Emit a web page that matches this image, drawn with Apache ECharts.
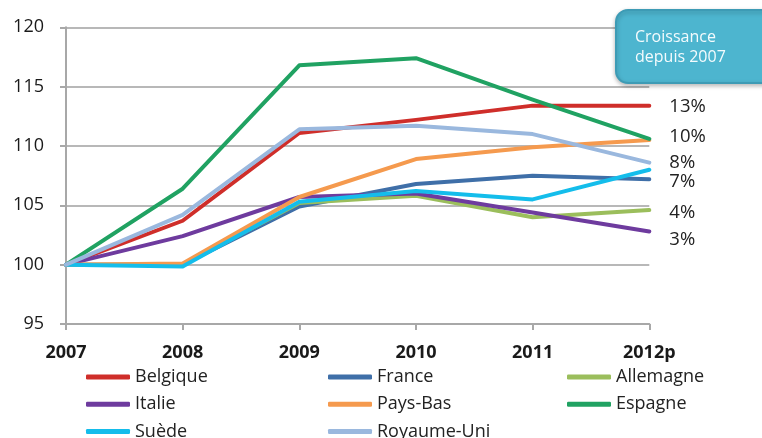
<!DOCTYPE html>
<html>
<head>
<meta charset="utf-8">
<style>
  html, body { margin: 0; padding: 0; background: #ffffff; }
  #chart { width: 762px; height: 438px; }
</style>
<script src="https://cdn.jsdelivr.net/npm/echarts@6/dist/echarts.min.js"></script>
</head>
<body>
<div id="chart"></div>
<script>
// Index 2007 = 100
const years = ['2007', '2008', '2009', '2010', '2011', '2012p'];

const belgique   = [100, 103.7, 111.1, 112.2, 113.4, 113.4];
const france     = [100, 100.0, 104.9, 106.8, 107.5, 107.2];
const allemagne  = [100, 100.0, 105.2, 105.8, 104.0, 104.6];
const italie     = [100, 102.4, 105.7, 106.0, 104.4, 102.8];
const paysBas    = [100, 100.1, 105.7, 108.9, 109.9, 110.5];
const espagne    = [100, 106.4, 116.8, 117.4, 113.9, 110.6];
const suede      = [100, 99.85, 105.3, 106.2, 105.5, 108.0];
const royaumeUni = [100, 104.2, 111.4, 111.7, 111.0, 108.6];

const yTicks = [95, 100, 105, 110, 115, 120];

// Growth since 2007, written at the end of some lines
const growthText = {
  'Belgique': '13%',
  'Espagne': '10%',
  'Royaume-Uni': '8%',
  'France': '7%',
  'Allemagne': '4%',
  'Italie': '3%'
};

const calloutLines = ['Croissance', 'depuis 2007'];

const FONT = '"Open Sans", "DejaVu Sans", sans-serif';

const seriesDefs = [
  { name: 'Belgique',    data: belgique,   color: '#CF2E2A', dy: 1 },
  { name: 'France',      data: france,     color: '#3F6FA8', dy: 3 },
  { name: 'Allemagne',   data: allemagne,  color: '#9BBE5C', dy: 3 },
  { name: 'Italie',      data: italie,     color: '#6E3B9E', dy: 8 },
  { name: 'Pays-Bas',    data: paysBas,    color: '#F59A4E', dy: 0 },
  { name: 'Espagne',     data: espagne,    color: '#20A262', dy: -2 },
  { name: 'Suède',       data: suede,      color: '#14BDEB', dy: 0 },
  { name: 'Royaume-Uni', data: royaumeUni, color: '#9AB8DE', dy: 0 }
];

const series = seriesDefs.map(function (s) {
  const txt = growthText[s.name];
  return {
    name: s.name,
    type: 'line',
    data: s.data,
    symbol: 'none',
    showSymbol: false,
    color: s.color,
    lineStyle: { width: 4, color: s.color, cap: 'round', join: 'round' },
    emphasis: { disabled: true },
    animation: false,
    endLabel: txt ? {
      show: true,
      formatter: txt,
      distance: 20,
      offset: [0, s.dy],
      color: '#222222',
      fontFamily: FONT,
      fontSize: 18.5
    } : { show: false }
  };
});

// One vertical legend per column, so the three columns line up
const legendCommon = {
  orient: 'vertical',
  padding: 0,
  height: 100,
  itemWidth: 44,
  itemHeight: 5,
  itemGap: 9.2,
  icon: 'roundRect',
  selectedMode: false,
  textStyle: { fontFamily: FONT, fontSize: 18, color: '#222222', lineHeight: 18 }
};

const chart = echarts.init(document.getElementById('chart'), null, { renderer: 'canvas' });

chart.setOption({
  backgroundColor: '#ffffff',
  animation: false,
  grid: { left: 66, right: 112.7, top: 27.3, bottom: 114 },
  xAxis: {
    type: 'category',
    data: years,
    boundaryGap: false,
    axisLine: { lineStyle: { color: '#A8A8A8', width: 2 } },
    axisTick: { show: true, length: 6, lineStyle: { color: '#A8A8A8', width: 2 } },
    axisLabel: {
      margin: 20,
      fontFamily: FONT,
      fontSize: 18,
      fontWeight: 'bold',
      color: '#1a1a1a'
    },
    splitLine: { show: false }
  },
  yAxis: {
    type: 'value',
    min: yTicks[0],
    max: yTicks[yTicks.length - 1],
    interval: 5,
    axisLine: { show: true, lineStyle: { color: '#A8A8A8', width: 2 } },
    axisTick: { show: true, length: 6, lineStyle: { color: '#A8A8A8', width: 2 } },
    axisLabel: {
      margin: 22,
      fontFamily: FONT,
      fontSize: 18,
      color: '#1a1a1a'
    },
    splitLine: { show: true, lineStyle: { color: '#B8B8B8', width: 2 } }
  },
  legend: [
    Object.assign({}, legendCommon, { left: 86,  top: 368, data: ['Belgique', 'Italie', 'Suède'] }),
    Object.assign({}, legendCommon, { left: 328, top: 368, data: ['France', 'Pays-Bas', 'Royaume-Uni'] }),
    Object.assign({}, legendCommon, { left: 567, top: 368, data: ['Allemagne', 'Espagne'] })
  ],
  series: series,
  graphic: [
    {
      type: 'rect',
      left: 615,
      top: 9,
      z: 100,
      shape: { width: 160, height: 73, r: 12 },
      style: {
        fill: '#4DB5CF',
        stroke: '#3D9BB5',
        lineWidth: 2,
        shadowBlur: 4,
        shadowOffsetY: 2,
        shadowColor: 'rgba(0,0,0,0.25)'
      }
    },
    {
      type: 'text',
      left: 635,
      top: 27,
      z: 101,
      style: {
        text: calloutLines.join('\n'),
        fill: '#F4FBFD',
        font: '16px ' + FONT,
        lineHeight: 20
      }
    }
  ]
});
</script>
</body>
</html>
